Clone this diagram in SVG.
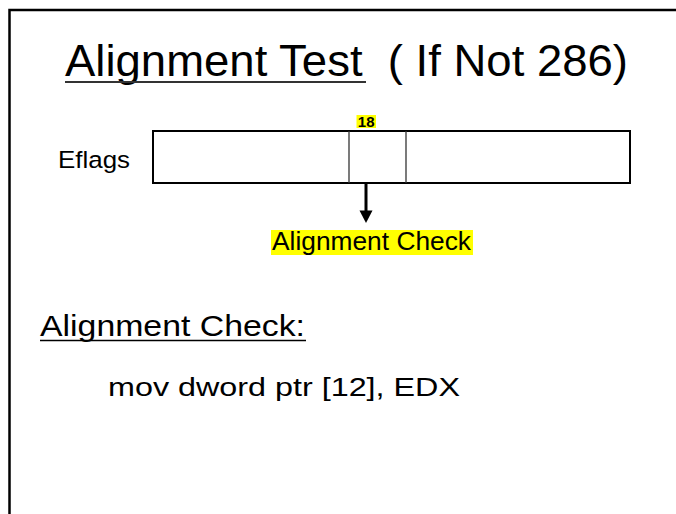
<svg xmlns="http://www.w3.org/2000/svg" width="676" height="514" viewBox="0 0 676 514">
<style>
text{font-family:"Liberation Sans",Arial,sans-serif;fill:#000}
.hl{fill:#ffff00}
.box{fill:#fff;stroke:#000;stroke-width:2}
.div{stroke:#333;stroke-width:1.3}
</style>
<rect width="676" height="514" fill="#fff"/>
<path d="M9.5,514 V10 H676" fill="none" stroke="#000" stroke-width="2.5"/>
<g id="title">
<text x="65" y="75.5" font-size="45" xml:space="preserve" textLength="563" lengthAdjust="spacingAndGlyphs">Alignment Test  ( If Not 286)</text>
<line x1="65" y1="82" x2="366" y2="82" stroke="#333" stroke-width="2"/>
</g>
<g id="eflags-label"><text x="58" y="168" font-size="24.5" textLength="72" lengthAdjust="spacingAndGlyphs">Eflags</text></g>
<g id="eflags">
<rect class="box" x="153" y="131" width="477" height="52"/>
<line class="div" x1="349" y1="131" x2="349" y2="183"/>
<line class="div" x1="406" y1="131" x2="406" y2="183"/>
</g>
<g id="bit18">
<rect class="hl" x="356.5" y="115" width="19.5" height="13"/>
<text x="366.2" y="127" font-size="15" font-weight="bold" text-anchor="middle">18</text>
</g>
<g id="connectors">
<line x1="366" y1="183" x2="366" y2="211" stroke="#000" stroke-width="3"/>
<path d="M359.5,210.5 L372.5,210.5 L366,223 Z" fill="#000"/>
</g>
<g id="alignment-check">
<rect class="hl" x="271" y="230" width="202" height="25"/>
<text x="272" y="250" font-size="25" textLength="199" lengthAdjust="spacingAndGlyphs">Alignment Check</text>
</g>
<g id="heading">
<text x="40" y="336" font-size="30" textLength="265" lengthAdjust="spacingAndGlyphs">Alignment Check:</text>
<line x1="40" y1="340.5" x2="306" y2="340.5" stroke="#000" stroke-width="1.5"/>
</g>
<g id="code">
<text x="108" y="396" font-size="25" textLength="352" lengthAdjust="spacingAndGlyphs">mov dword ptr [12], EDX</text>
</g>
</svg>
